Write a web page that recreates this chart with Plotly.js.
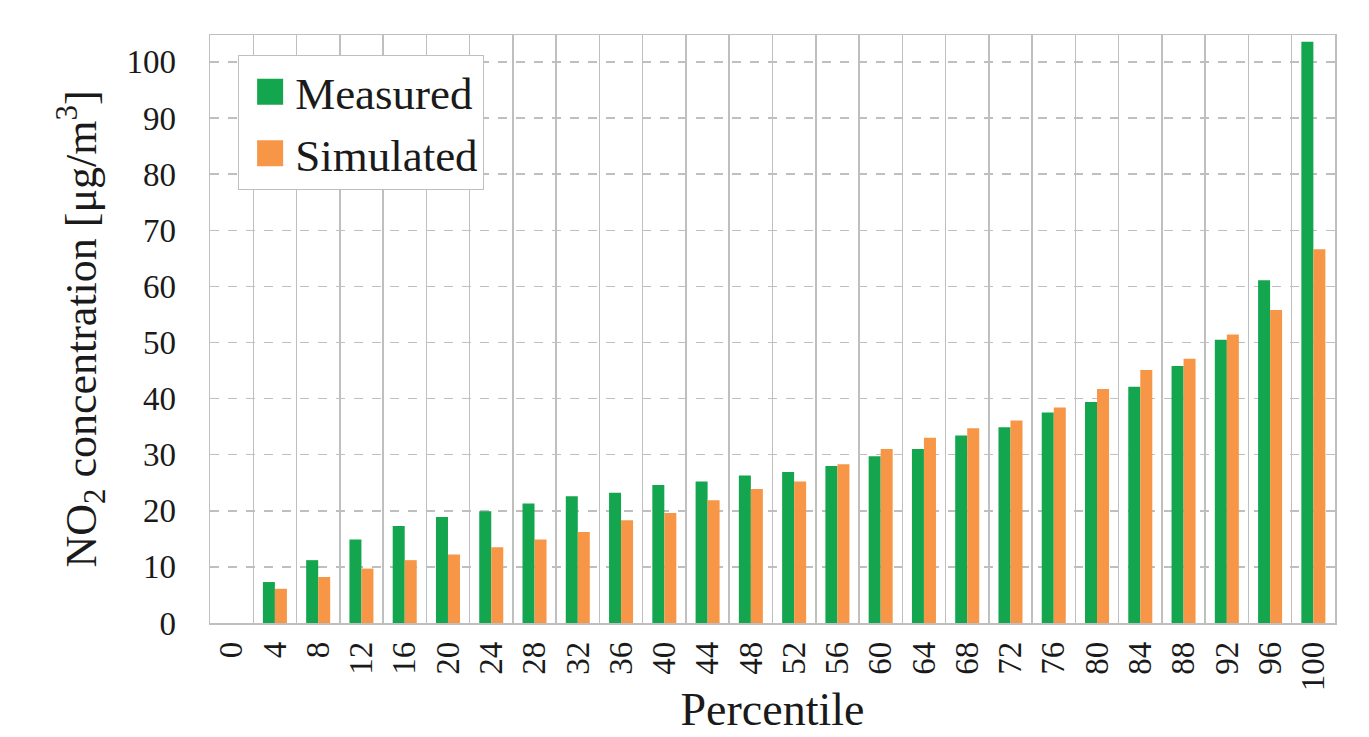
<!DOCTYPE html>
<html>
<head>
<meta charset="utf-8">
<script src="https://cdn.plot.ly/plotly-3.0.1.min.js"></script>
<style>
  html, body { margin: 0; padding: 0; background: #ffffff; }
  #chart { width: 1369px; height: 737px; }
  #chart .xtick text, #chart .ytick text { font-family: "Liberation Serif", serif !important; }
</style>
</head>
<body>
<div id="chart"></div>
<script>
const percentiles = ['0','4','8','12','16','20','24','28','32','36','40','44','48','52','56','60','64','68','72','76','80','84','88','92','96','100'];
const measured = [0, 7.3, 11.2, 14.9, 17.3, 18.9, 19.9, 21.3, 22.6, 23.2, 24.6, 25.2, 26.3, 26.9, 28.0, 29.7, 31.0, 33.4, 34.9, 37.5, 39.4, 42.1, 45.8, 50.5, 61.1, 103.6];
const simulated = [0, 6.1, 8.2, 9.7, 11.2, 12.2, 13.5, 14.9, 16.2, 18.3, 19.6, 21.9, 23.9, 25.2, 28.3, 31.0, 33.0, 34.7, 36.1, 38.4, 41.7, 45.1, 47.1, 51.4, 55.8, 66.6];
const seriesNames = ['Measured', 'Simulated'];
const yTickVals = [0, 10, 20, 30, 40, 50, 60, 70, 80, 90, 100];

const FONT = '"Liberation Serif", serif';
const GRID = '#bfbfbf';

const traces = [
  { type: 'bar', name: seriesNames[0], x: percentiles, y: measured,
    marker: { color: '#14a64e', line: { width: 0 } }, hoverinfo: 'x+y' },
  { type: 'bar', name: seriesNames[1], x: percentiles, y: simulated,
    marker: { color: '#f79646', line: { width: 0 } }, hoverinfo: 'x+y' }
];

const layout = {
  width: 1369, height: 737,
  paper_bgcolor: '#ffffff', plot_bgcolor: '#ffffff',
  margin: { l: 210, r: 34, t: 35, b: 114, autoexpand: false },
  font: { family: FONT, color: '#1a1a1a', size: 30 },
  barmode: 'group', bargap: 0.445, bargroupgap: 0,
  showlegend: true,
  legend: {
    x: 0.025, y: 0.966, xanchor: 'left', yanchor: 'top',
    bgcolor: '#ffffff', bordercolor: GRID, borderwidth: 1,
    font: { family: FONT, size: 45, color: '#1a1a1a' },
    itemwidth: 46,
    itemclick: false, itemdoubleclick: false
  },
  xaxis: {
    type: 'category', tickson: 'boundaries',
    showgrid: true, gridcolor: GRID, gridwidth: 1.5,
    showline: true, linecolor: GRID, linewidth: 1.5, mirror: true,
    ticks: '', tickangle: -90, ticklabelstandoff: 4,
    tickfont: { family: FONT, size: 33, color: '#1a1a1a' },
    title: { text: 'Percentile', font: { family: FONT, size: 46, color: '#1a1a1a' }, standoff: 2 },
    automargin: false
  },
  yaxis: {
    range: [0, 104.8], tickvals: yTickVals, ticktext: yTickVals.map(String),
    showgrid: true, gridcolor: GRID, gridwidth: 1.5, griddash: 'dash',
    showline: true, linecolor: GRID, linewidth: 1.5, mirror: true,
    zeroline: false, ticks: '', ticklabelstandoff: 26,
    tickfont: { family: FONT, size: 33, color: '#1a1a1a' },
    title: { text: 'NO<sub>2</sub> concentration [μg/m<sup>3</sup>]', font: { family: FONT, size: 44, color: '#1a1a1a' }, standoff: 16 },
    automargin: false
  }
};

Plotly.newPlot('chart', traces, layout, { displayModeBar: false, staticPlot: true }).then(function () {
  document.querySelectorAll('.legend .legendpoints path').forEach(function (p) {
    p.setAttribute('d', 'M13,13H-13V-13H13Z');
    p.setAttribute('transform', 'translate(31,0)');
  });
  document.querySelectorAll('.xtick text, .ytick text').forEach(function (t) {
    t.style.fontFamily = '"Liberation Serif", serif';
  });
});
</script>
</body>
</html>
